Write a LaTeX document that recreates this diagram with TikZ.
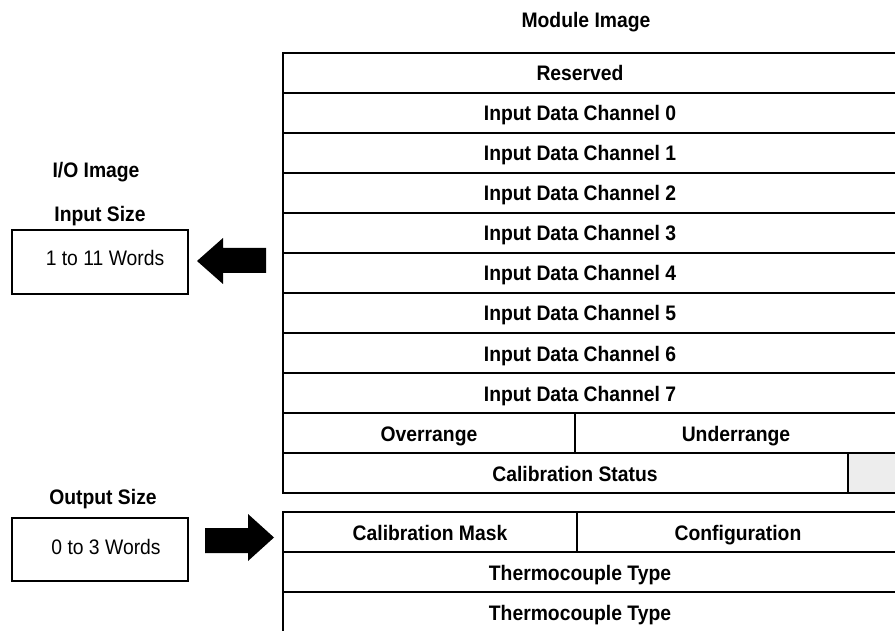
\documentclass[tikz,border=0pt]{standalone}
\usepackage{fontspec}
\setmainfont{Liberation Sans}[FakeStretch=0.92]
\usetikzlibrary{calc}
\tikzset{
  lbl/.style={font=\bfseries\fontsize{21}{24}\selectfont, anchor=base, inner sep=0pt},
  words/.style={font=\fontsize{21}{24}\selectfont, anchor=base, inner sep=0pt},
  grid/.style={line width=2.3pt},
  sizebox/.style={line width=2pt},
}
\begin{document}
\begin{tikzpicture}[x=1pt,y=-1pt]
		%%%%% START %%%%%
		\useasboundingbox (0,0) rectangle (895,631);
		\clip (0,0) rectangle (895,631);
		
		\node[lbl] (title) at (586, 28) {Module Image};
		
		% input table
		\fill[black!7] (848, 453) rectangle (900, 493);
		\draw[grid] (283, 53) rectangle (900, 493);
		\foreach \k in {1,...,10}
			\draw[grid] (283, 53+40*\k) -- (900, 53+40*\k);
		\draw[grid] (575, 413) -- (575, 453);
		\draw[grid] (848, 453) -- (848, 493);
		
		\node[lbl] (res) at (580, 81) {Reserved};
		\foreach \c in {0,...,7}
			\node[lbl] (ch\c) at (580, 121+40*\c) {Input Data Channel \c};
		\node[lbl] (over) at (429, 441) {Overrange};
		\node[lbl] (under) at (736, 441) {Underrange};
		\node[lbl] (cstat) at (575, 481) {Calibration Status};
		
		% output table
		\draw[grid] (283, 512) rectangle (900, 640);
		\draw[grid] (283, 552) -- (900, 552);
		\draw[grid] (283, 592) -- (900, 592);
		\draw[grid] (577, 512) -- (577, 552);
		
		\node[lbl] (cmask) at (430, 540) {Calibration Mask};
		\node[lbl] (config) at (738, 540) {Configuration};
		\node[lbl] (tc1) at (580, 580) {Thermocouple Type};
		\node[lbl] (tc2) at (580, 620) {Thermocouple Type};
		
		% I/O image side
		\node[lbl] (io) at (96, 178) {I/O Image};
		\node[lbl] (insize) at (100, 222) {Input Size};
		\draw[sizebox] (12, 230) rectangle (188, 294);
		\node[words] (inwords) at (105, 266) {1 to 11 Words};
		\fill (266, 248) -- (223, 248) -- (223, 238) -- (197, 261)
			-- (223, 284) -- (223, 273) -- (266, 273) -- cycle;
		
		\node[lbl] (outsize) at (103, 504) {Output Size};
		\draw[sizebox] (12, 518) rectangle (188, 581);
		\node[words] (outwords) at (106, 554) {0 to 3 Words};
		\fill (205, 528) -- (248, 528) -- (248, 514) -- (274, 537.5)
			-- (248, 561) -- (248, 553) -- (205, 553) -- cycle;
		
		%%%%% END %%%%%
	\end{tikzpicture}
\end{document}
